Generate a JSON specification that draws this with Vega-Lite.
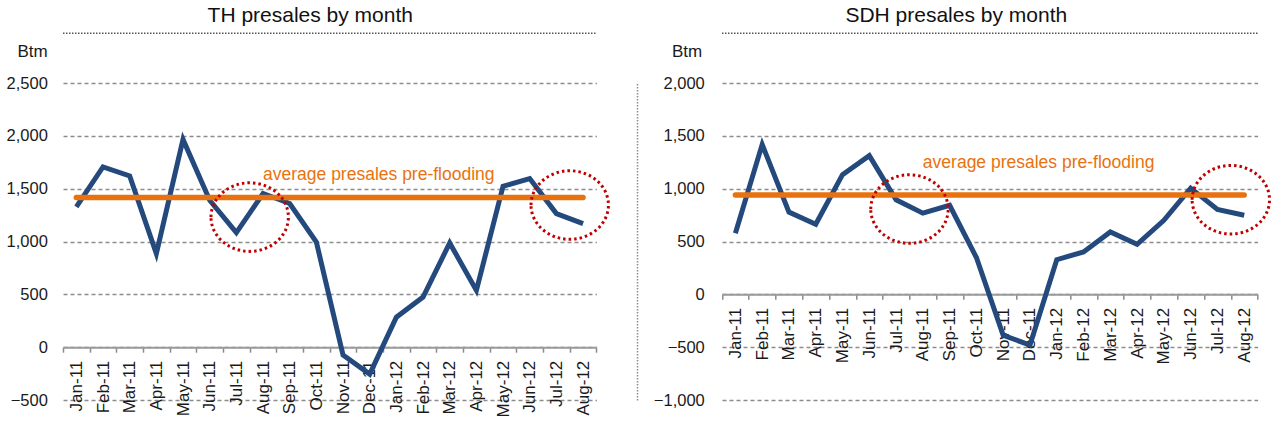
{
  "$schema": "https://vega.github.io/schema/vega-lite/v6.json",
  "padding": {"left": 6, "top": 4, "right": 4, "bottom": 4},
  "background": "#ffffff",
  "bounds": "flush",
  "spacing": 113.3,
  "config": {
    "font": "Liberation Sans",
    "view": {"stroke": null},
    "axis": {"labelFont": "Liberation Sans", "titleFont": "Liberation Sans"}
  },
  "datasets": {
    "th": [
      {"month": "Jan-11", "value": 1327}, {"month": "Feb-11", "value": 1706}, {"month": "Mar-11", "value": 1621},
      {"month": "Apr-11", "value": 885}, {"month": "May-11", "value": 1966}, {"month": "Jun-11", "value": 1390},
      {"month": "Jul-11", "value": 1084}, {"month": "Aug-11", "value": 1454}, {"month": "Sep-11", "value": 1360},
      {"month": "Oct-11", "value": 995}, {"month": "Nov-11", "value": -75}, {"month": "Dec-11", "value": -255},
      {"month": "Jan-12", "value": 284}, {"month": "Feb-12", "value": 474}, {"month": "Mar-12", "value": 986},
      {"month": "Apr-12", "value": 537}, {"month": "May-12", "value": 1523}, {"month": "Jun-12", "value": 1596},
      {"month": "Jul-12", "value": 1264}, {"month": "Aug-12", "value": 1170}
    ],
    "sdh": [
      {"month": "Jan-11", "value": 578}, {"month": "Feb-11", "value": 1418}, {"month": "Mar-11", "value": 778},
      {"month": "Apr-11", "value": 663}, {"month": "May-11", "value": 1133}, {"month": "Jun-11", "value": 1313},
      {"month": "Jul-11", "value": 895}, {"month": "Aug-11", "value": 768}, {"month": "Sep-11", "value": 843},
      {"month": "Oct-11", "value": 348}, {"month": "Nov-11", "value": -388}, {"month": "Dec-11", "value": -480},
      {"month": "Jan-12", "value": 328}, {"month": "Feb-12", "value": 401}, {"month": "Mar-12", "value": 590},
      {"month": "Apr-12", "value": 474}, {"month": "May-12", "value": 700}, {"month": "Jun-12", "value": 1005},
      {"month": "Jul-12", "value": 804}, {"month": "Aug-12", "value": 748}
    ],
    "th_avg": [{"start": "Jan-11", "end": "Aug-12", "avg": 1416, "label": "average presales pre-flooding", "labelAt": "Aug-11", "labelY": 1625}],
    "sdh_avg": [{"start": "Jan-11", "end": "Aug-12", "avg": 939, "label": "average presales pre-flooding", "labelAt": "Aug-11", "labelY": 1240}],
    "th_circles": [{"at": "Aug-11", "value": 1231}, {"at": "Aug-12", "value": 1345}],
    "sdh_circles": [{"at": "Aug-11", "value": 807}, {"at": "Aug-12", "value": 895}],
    "span": [{"start": "Jan-11", "end": "Aug-12"}]
  },
  "hconcat": [
    {
      "width": 533.4,
      "height": 317,
      "title": {"text": "TH presales by month", "fontSize": 21, "fontWeight": "normal", "color": "#111111", "baseline": "alphabetic", "offset": -10, "anchor": "middle", "frame": "bounds"},
      "layer": [
        {
          "data": {"name": "th"},
          "mark": {"type": "line", "color": "#24497C", "strokeWidth": 5, "clip": false},
          "encoding": {
            "x": {"field": "month", "type": "ordinal",
              "scale": {"domain": ["Jan-11","Feb-11","Mar-11","Apr-11","May-11","Jun-11","Jul-11","Aug-11","Sep-11","Oct-11","Nov-11","Dec-11","Jan-12","Feb-12","Mar-12","Apr-12","May-12","Jun-12","Jul-12","Aug-12"], "paddingInner": 0, "paddingOuter": 0},
              "axis": {"title": null, "labelAngle": -90, "labelFontSize": 17, "labelColor": "#1a1a1a", "tickBand": "extent", "tickSize": 5, "tickColor": "#8a8a8a", "tickWidth": 1.5, "domainColor": "#9a9a9a", "domainWidth": 2, "offset": -52.8, "grid": false, "labelPadding": 8, "zindex": 0}},
            "y": {"field": "value", "type": "quantitative",
              "scale": {"domain": [-500, 2500], "nice": false, "zero": false},
              "axis": {"values": [-500, 0, 500, 1000, 1500, 2000, 2500], "format": ",.0f", "grid": true, "gridDash": [4, 3], "gridColor": "#8c8c8c", "gridWidth": 1.3, "domain": false, "ticks": false, "labelPadding": 15.6, "labelFontSize": 16.5, "labelColor": "#1a1a1a", "title": "Btm", "titleAngle": 0, "titleFontSize": 17, "titleFontWeight": "normal", "titleColor": "#1a1a1a", "titleX": -31, "titleY": -31.3, "titleAlign": "center", "titleBaseline": "middle", "zindex": 0}}
          }
        },
        {
          "data": {"name": "th_avg"},
          "mark": {"type": "rule", "color": "#E8720F", "strokeWidth": 5.5, "strokeCap": "round"},
          "encoding": {"x": {"field": "start", "type": "ordinal"}, "x2": {"field": "end"}, "y": {"field": "avg", "type": "quantitative"}}
        },
        {
          "data": {"name": "th_avg"},
          "mark": {"type": "text", "color": "#E8720F", "fontSize": 17.5, "align": "left", "baseline": "middle"},
          "encoding": {"x": {"field": "labelAt", "type": "ordinal"}, "y": {"field": "labelY", "type": "quantitative"}, "text": {"field": "label"}}
        },
        {
          "data": {"name": "th_circles"},
          "mark": {"type": "point", "shape": "M -1,0 A 1,0.886 0 1,1 1,0 A 1,0.886 0 1,1 -1,0 Z", "filled": false, "stroke": "#C00000", "strokeWidth": 3, "strokeDash": [2.5, 3], "size": 5991, "opacity": 1, "clip": false},
          "encoding": {"x": {"field": "at", "type": "ordinal", "bandPosition": 0}, "y": {"field": "value", "type": "quantitative"}}
        },
        {
          "data": {"name": "span"},
          "mark": {"type": "rule", "color": "#555555", "strokeWidth": 1.5, "strokeDash": [1.5, 1.5], "clip": false},
          "encoding": {"x": {"field": "start", "type": "ordinal", "bandPosition": 0}, "x2": {"field": "end", "bandPosition": 1}, "y": {"datum": 2970}}
        }
      ]
    },
    {
      "width": 547.3,
      "height": 317,
      "title": {"text": "SDH presales by month", "fontSize": 21, "fontWeight": "normal", "color": "#111111", "baseline": "alphabetic", "offset": -10, "anchor": "middle", "frame": "bounds"},
      "layer": [
        {
          "data": {"name": "sdh"},
          "mark": {"type": "line", "color": "#24497C", "strokeWidth": 5, "clip": false},
          "encoding": {
            "x": {"field": "month", "type": "ordinal",
              "scale": {"domain": ["Jan-11","Feb-11","Mar-11","Apr-11","May-11","Jun-11","Jul-11","Aug-11","Sep-11","Oct-11","Nov-11","Dec-11","Jan-12","Feb-12","Mar-12","Apr-12","May-12","Jun-12","Jul-12","Aug-12"], "paddingInner": 0, "paddingOuter": 0, "range": [11.7, 547.3]},
              "axis": {"title": null, "labelAngle": -90, "labelFontSize": 17, "labelColor": "#1a1a1a", "tickBand": "extent", "tickSize": 5, "tickColor": "#8a8a8a", "tickWidth": 1.5, "domainColor": "#9a9a9a", "domainWidth": 2, "offset": -105.7, "grid": false, "labelPadding": 8, "zindex": 0}},
            "y": {"field": "value", "type": "quantitative",
              "scale": {"domain": [-1000, 2000], "nice": false, "zero": false},
              "axis": {"values": [-1000, -500, 0, 500, 1000, 1500, 2000], "format": ",.0f", "grid": true, "gridDash": [4, 3], "gridColor": "#8c8c8c", "gridWidth": 1.3, "domain": true, "domainColor": "#8a8a8a", "domainWidth": 1.5, "domainDash": [1.5, 1.5], "offset": 73.3, "ticks": false, "labelPadding": -67.3, "labelFontSize": 16.5, "labelColor": "#1a1a1a", "title": "Btm", "titleAngle": 0, "titleFontSize": 17, "titleFontWeight": "normal", "titleColor": "#1a1a1a", "titleX": 49.5, "titleY": -31.3, "titleAlign": "center", "titleBaseline": "middle", "zindex": 0}}
          }
        },
        {
          "data": {"name": "sdh_avg"},
          "mark": {"type": "rule", "color": "#E8720F", "strokeWidth": 5.5, "strokeCap": "round"},
          "encoding": {"x": {"field": "start", "type": "ordinal"}, "x2": {"field": "end"}, "y": {"field": "avg", "type": "quantitative"}}
        },
        {
          "data": {"name": "sdh_avg"},
          "mark": {"type": "text", "color": "#E8720F", "fontSize": 17.5, "align": "left", "baseline": "middle"},
          "encoding": {"x": {"field": "labelAt", "type": "ordinal"}, "y": {"field": "labelY", "type": "quantitative"}, "text": {"field": "label"}}
        },
        {
          "data": {"name": "sdh_circles"},
          "mark": {"type": "point", "shape": "M -1,0 A 1,0.886 0 1,1 1,0 A 1,0.886 0 1,1 -1,0 Z", "filled": false, "stroke": "#C00000", "strokeWidth": 3, "strokeDash": [2.5, 3], "size": 5991, "opacity": 1, "clip": false},
          "encoding": {"x": {"field": "at", "type": "ordinal", "bandPosition": 0}, "y": {"field": "value", "type": "quantitative"}}
        },
        {
          "data": {"name": "span"},
          "mark": {"type": "rule", "color": "#555555", "strokeWidth": 1.5, "strokeDash": [1.5, 1.5], "clip": false},
          "encoding": {"x": {"field": "start", "type": "ordinal", "bandPosition": 0}, "x2": {"field": "end", "bandPosition": 1}, "y": {"datum": 2470}}
        }
      ]
    }
  ]
}
